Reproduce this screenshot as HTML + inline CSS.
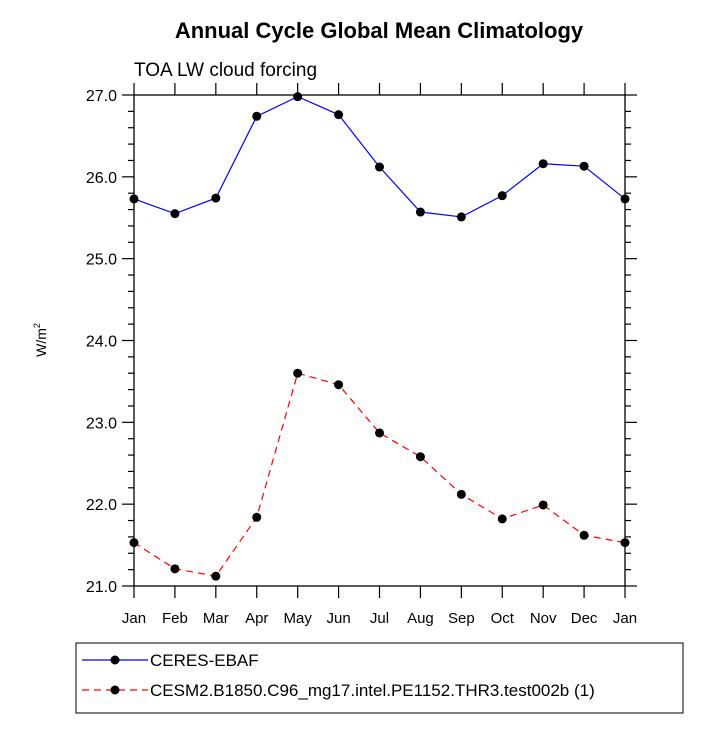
<!DOCTYPE html>
<html><head><meta charset="utf-8"><style>
body{margin:0;background:#fff}
svg text{font-family:"Liberation Sans",sans-serif}
</style></head><body>
<svg id="c" width="727" height="727" xmlns="http://www.w3.org/2000/svg">
<text x="379" y="38" text-anchor="middle" font-size="22" font-weight="bold">Annual Cycle Global Mean Climatology</text>
<text x="134" y="76" font-size="19">TOA LW cloud forcing</text>
<text transform="translate(46,340) rotate(-90)" text-anchor="middle" font-size="14">W/m<tspan font-size="9" dy="-6">2</tspan></text>
<g id="axes"></g><g id="series"></g>
<rect x="76" y="643" width="607" height="70" fill="none" stroke="#000" stroke-width="1"/>
<g>
<line x1="82" y1="660" x2="148" y2="660" stroke="#00f" stroke-width="1.2"/>
<circle cx="115" cy="660" r="4.5"/>
<text x="150" y="666" font-size="17">CERES-EBAF</text></g>
<g>
<line x1="82" y1="690" x2="148" y2="690" stroke="#f00" stroke-width="1.2" stroke-dasharray="7,5"/>
<circle cx="115" cy="690" r="4.5"/>
<text x="150" y="696" font-size="17">CESM2.B1850.C96_mg17.intel.PE1152.THR3.test002b (1)</text></g>
</svg>
<script>
const months=["Jan","Feb","Mar","Apr","May","Jun","Jul","Aug","Sep","Oct","Nov","Dec","Jan"];
const ceres=[25.73,25.55,25.74,26.74,26.98,26.76,26.12,25.57,25.51,25.77,26.16,26.13,25.73];
const cesm2=[21.53,21.21,21.12,21.84,23.60,23.46,22.87,22.58,22.12,21.82,21.99,21.62,21.53];
const yTicks=["21.0","22.0","23.0","24.0","25.0","26.0","27.0"];
const L=134,R=625,T=95,B=586,Y0=21,Y1=27;
const xs=i=>L+(R-L)*i/(months.length-1);
const ys=v=>B-(v-Y0)/(Y1-Y0)*(B-T);
const NS="http://www.w3.org/2000/svg";
function mk(t,a,p){const e=document.createElementNS(NS,t);for(const k in a)e.setAttribute(k,a[k]);p.appendChild(e);return e;}
const ax=document.getElementById('axes');
const fr=mk('rect',{x:L,y:T,width:R-L,height:B-T,fill:'none',stroke:'#000','stroke-width':1.3},ax);


months.forEach((m,i)=>{const x=xs(i);
mk('line',{x1:x,y1:B,x2:x,y2:B+12,stroke:'#000','stroke-width':1.2},ax);
mk('line',{x1:x,y1:T,x2:x,y2:T-12,stroke:'#000','stroke-width':1.2},ax);
const t=mk('text',{x:x,y:B+37,'text-anchor':'middle','font-size':15},ax);t.textContent=m;

});
for(let v=Y0;v<=Y1+1e-9;v+=0.2){const y=ys(v);const maj=Math.abs(v-Math.round(v))<1e-6;const len=maj?12:6;
mk('line',{x1:L,y1:y,x2:L-len,y2:y,stroke:'#000','stroke-width':1.2},ax);
mk('line',{x1:R,y1:y,x2:R+len,y2:y,stroke:'#000','stroke-width':1.2},ax);}
yTicks.forEach(s=>{const y=ys(parseFloat(s));const t=mk('text',{x:L-17,y:y+6,'text-anchor':'end','font-size':16},ax);t.textContent=s;

});
const sg=document.getElementById('series');
function series(d,col,dash,name){const g=mk('g',{},sg);


mk('polyline',{points:d.map((v,i)=>xs(i)+','+ys(v)).join(' '),fill:'none',stroke:col,'stroke-width':1.2,'stroke-dasharray':dash},g);
d.forEach((v,i)=>mk('circle',{cx:xs(i),cy:ys(v),r:4.5,fill:'#000'},g));}
series(ceres,'#00f','none','series-ceres-ebaf');
series(cesm2,'#f00','7,5','series-cesm2');
</script>
</body></html>
